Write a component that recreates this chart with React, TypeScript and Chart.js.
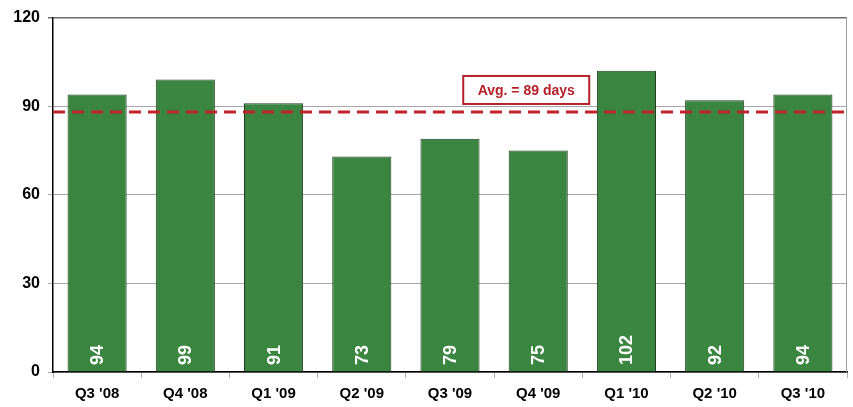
import React, { useEffect, useRef } from "react";
import { Chart, registerables } from "chart.js";

Chart.register(...registerables);

const categories = ["Q3 '08", "Q4 '08", "Q1 '09", "Q2 '09", "Q3 '09", "Q4 '09", "Q1 '10", "Q2 '10", "Q3 '10"];
const daysValues = [94, 99, 91, 73, 79, 75, 102, 92, 94];
const avgLineValue = 88;
const avgLabel = "Avg. = 89 days";
const yTicks = [0, 30, 60, 90, 120];

const FONT = "'Liberation Sans', Arial, sans-serif";

const overlayPlugin = {
  id: "overlay",
  afterDatasetsDraw(chart: any) {
    const { ctx, chartArea, scales } = chart;
    const y = scales.y;
    ctx.save();
    // right border
    ctx.strokeStyle = "#a0a0a0";
    ctx.lineWidth = 1;
    ctx.beginPath();
    ctx.moveTo(chartArea.right - 0.5, chartArea.top);
    ctx.lineTo(chartArea.right - 0.5, chartArea.bottom);
    ctx.stroke();

    // bar value labels
    const meta = chart.getDatasetMeta(0);
    ctx.fillStyle = "#ffffff";
    ctx.font = `bold 18px ${FONT}`;
    ctx.textAlign = "left";
    ctx.textBaseline = "middle";
    meta.data.forEach((bar: any, i: number) => {
      ctx.save();
      ctx.translate(bar.x, chartArea.bottom - 7);
      ctx.rotate(-Math.PI / 2);
      ctx.fillText(String(daysValues[i]), 0, 1);
      ctx.restore();
    });

    // average dashed line
    const ay = y.getPixelForValue(avgLineValue);
    ctx.strokeStyle = "#c1232b";
    ctx.lineWidth = 3;
    ctx.setLineDash([12, 7]);
    ctx.beginPath();
    ctx.moveTo(chartArea.left, ay);
    ctx.lineTo(chartArea.right, ay);
    ctx.stroke();
    ctx.setLineDash([]);

    // label box
    const cx = chartArea.left + (chartArea.right - chartArea.left) * 0.596;
    const cy = y.getPixelForValue(95.5);
    const w = 126;
    const h = 28;
    ctx.fillStyle = "#ffffff";
    ctx.fillRect(cx - w / 2, cy - h / 2, w, h);
    ctx.strokeStyle = "#b52029";
    ctx.lineWidth = 2;
    ctx.strokeRect(cx - w / 2, cy - h / 2, w, h);
    ctx.fillStyle = "#b52029";
    ctx.font = `bold 14px ${FONT}`;
    ctx.textAlign = "center";
    ctx.textBaseline = "middle";
    ctx.fillText(avgLabel, cx, cy + 1);
    ctx.restore();
  },
};

export default function App() {
  const ref = useRef<HTMLCanvasElement>(null);
  useEffect(() => {
    document.body.style.margin = "0";
    const chart = new Chart(ref.current as HTMLCanvasElement, {
      type: "bar",
      data: {
        labels: categories,
        datasets: [
          {
            data: daysValues,
            backgroundColor: "#3a8540",
            borderColor: "#1f3f20",
            borderWidth: 1,
            categoryPercentage: 0.67,
            barPercentage: 1,
          },
        ],
      },
      options: {
        animation: false,
        responsive: false,
        maintainAspectRatio: false,
        layout: { padding: { top: 13, right: 6, left: 0, bottom: 0 } },
        plugins: { legend: { display: false }, tooltip: { enabled: false } },
        scales: {
          x: {
            afterFit: (s: any) => {
              s.height = 35;
            },
            grid: {
              offset: true,
              drawOnChartArea: false,
              drawTicks: true,
              tickLength: 6,
              color: "#b0b0b0",
            },
            border: { color: "#000000", width: 1.5 },
            ticks: {
              color: "#000000",
              font: { family: FONT, size: 15, weight: "bold" },
              padding: 7,
            },
          },
          y: {
            min: 0,
            max: 120,
            afterFit: (s: any) => {
              s.width = 53;
            },
            afterBuildTicks: (s: any) => {
              s.ticks = yTicks.map((v) => ({ value: v }));
            },
            grid: {
              color: (c: any) => (c.tick && c.tick.value === 120 ? "#6e6e6e" : "#a8a8a8"),
              lineWidth: (c: any) => (c.tick && c.tick.value === 120 ? 1.5 : 1),
              tickLength: 5,
            },
            border: { color: "#000000", width: 1.5 },
            ticks: {
              color: "#000000",
              font: { family: FONT, size: 16, weight: "bold" },
              padding: 8,
            },
          },
        },
      },
      plugins: [overlayPlugin],
    });
    return () => chart.destroy();
  }, []);
  return (
    <div style={{ width: 853, height: 407 }}>
      <canvas ref={ref} width={853} height={407} style={{ display: "block" }} />
    </div>
  );
}
